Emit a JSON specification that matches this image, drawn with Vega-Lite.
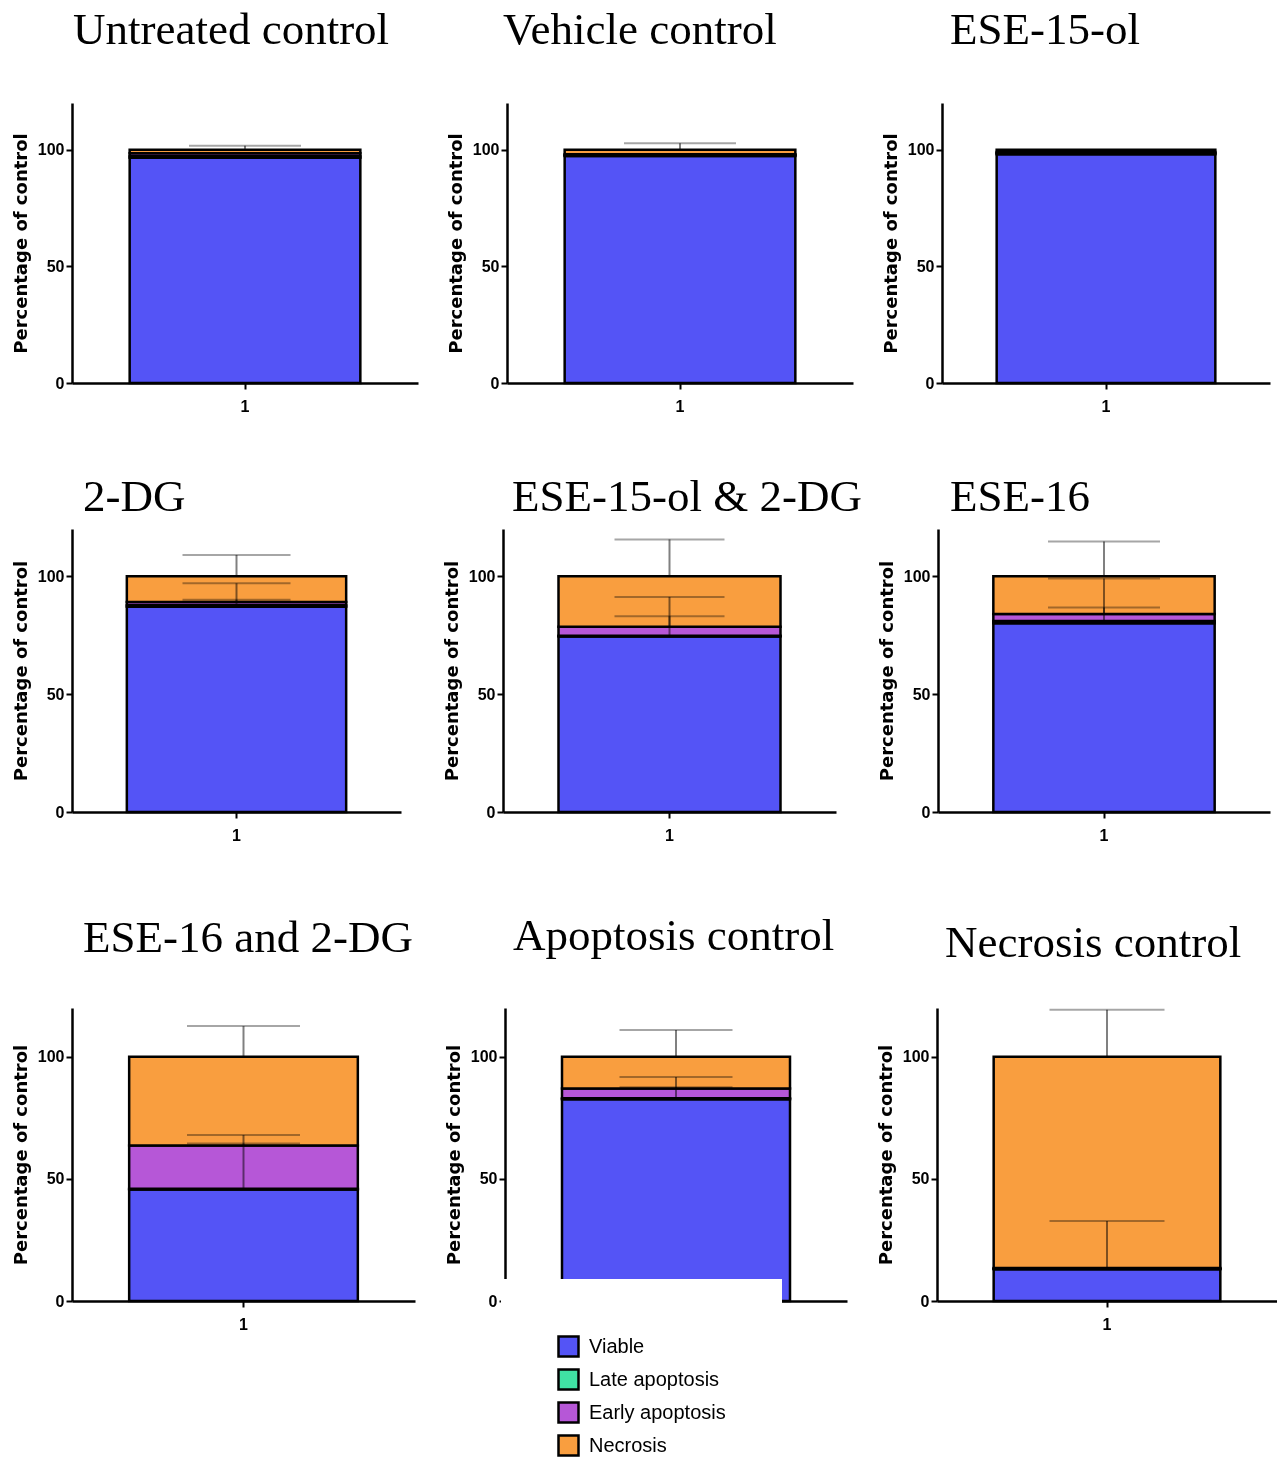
{
  "$schema": "https://vega.github.io/schema/vega-lite/v6.json",
  "padding": {"left": 12, "top": 8, "right": 0, "bottom": 0},
  "background": "white",
  "datasets": {
    "seg": [
      {"p": 1, "g": "1", "cat": "Viable", "k": 1, "v": 96.5},
      {"p": 1, "g": "1", "cat": "Late apoptosis", "k": 2, "v": 0.7},
      {"p": 1, "g": "1", "cat": "Early apoptosis", "k": 3, "v": 1.3},
      {"p": 1, "g": "1", "cat": "Necrosis", "k": 4, "v": 1.5},
      {"p": 2, "g": "1", "cat": "Viable", "k": 1, "v": 97.3},
      {"p": 2, "g": "1", "cat": "Late apoptosis", "k": 2, "v": 0.3},
      {"p": 2, "g": "1", "cat": "Early apoptosis", "k": 3, "v": 0.4},
      {"p": 2, "g": "1", "cat": "Necrosis", "k": 4, "v": 2.0},
      {"p": 3, "g": "1", "cat": "Viable", "k": 1, "v": 98.0},
      {"p": 3, "g": "1", "cat": "Late apoptosis", "k": 2, "v": 0.5},
      {"p": 3, "g": "1", "cat": "Early apoptosis", "k": 3, "v": 0.5},
      {"p": 3, "g": "1", "cat": "Necrosis", "k": 4, "v": 1.0},
      {"p": 4, "g": "1", "cat": "Viable", "k": 1, "v": 87.0},
      {"p": 4, "g": "1", "cat": "Late apoptosis", "k": 2, "v": 0.7},
      {"p": 4, "g": "1", "cat": "Early apoptosis", "k": 3, "v": 1.3},
      {"p": 4, "g": "1", "cat": "Necrosis", "k": 4, "v": 11.0},
      {"p": 5, "g": "1", "cat": "Viable", "k": 1, "v": 74.4},
      {"p": 5, "g": "1", "cat": "Late apoptosis", "k": 2, "v": 0.3},
      {"p": 5, "g": "1", "cat": "Early apoptosis", "k": 3, "v": 3.9},
      {"p": 5, "g": "1", "cat": "Necrosis", "k": 4, "v": 21.4},
      {"p": 6, "g": "1", "cat": "Viable", "k": 1, "v": 80.0},
      {"p": 6, "g": "1", "cat": "Late apoptosis", "k": 2, "v": 1.0},
      {"p": 6, "g": "1", "cat": "Early apoptosis", "k": 3, "v": 3.0},
      {"p": 6, "g": "1", "cat": "Necrosis", "k": 4, "v": 16.0},
      {"p": 7, "g": "1", "cat": "Viable", "k": 1, "v": 45.7},
      {"p": 7, "g": "1", "cat": "Late apoptosis", "k": 2, "v": 0.3},
      {"p": 7, "g": "1", "cat": "Early apoptosis", "k": 3, "v": 17.7},
      {"p": 7, "g": "1", "cat": "Necrosis", "k": 4, "v": 36.3},
      {"p": 8, "g": "1", "cat": "Viable", "k": 1, "v": 82.6},
      {"p": 8, "g": "1", "cat": "Late apoptosis", "k": 2, "v": 0.4},
      {"p": 8, "g": "1", "cat": "Early apoptosis", "k": 3, "v": 4.0},
      {"p": 8, "g": "1", "cat": "Necrosis", "k": 4, "v": 13.0},
      {"p": 9, "g": "1", "cat": "Viable", "k": 1, "v": 13.0},
      {"p": 9, "g": "1", "cat": "Late apoptosis", "k": 2, "v": 0.2},
      {"p": 9, "g": "1", "cat": "Early apoptosis", "k": 3, "v": 0.3},
      {"p": 9, "g": "1", "cat": "Necrosis", "k": 4, "v": 86.5}
    ],
    "err": [
      {"p": 1, "g": "1", "lo": 100, "hi": 101.7},
      {"p": 2, "g": "1", "lo": 100, "hi": 102.7},
      {"p": 4, "g": "1", "lo": 87, "hi": 90},
      {"p": 4, "g": "1", "lo": 89, "hi": 97},
      {"p": 4, "g": "1", "lo": 100, "hi": 109},
      {"p": 5, "g": "1", "lo": 74.4, "hi": 83},
      {"p": 5, "g": "1", "lo": 78.6, "hi": 91.2},
      {"p": 5, "g": "1", "lo": 100, "hi": 115.6},
      {"p": 6, "g": "1", "lo": 80, "hi": 86.7},
      {"p": 6, "g": "1", "lo": 84, "hi": 99},
      {"p": 6, "g": "1", "lo": 100, "hi": 114.7},
      {"p": 7, "g": "1", "lo": 45.7, "hi": 64.5},
      {"p": 7, "g": "1", "lo": 63.7, "hi": 68},
      {"p": 7, "g": "1", "lo": 100, "hi": 112.6},
      {"p": 8, "g": "1", "lo": 82.6, "hi": 87.5},
      {"p": 8, "g": "1", "lo": 87, "hi": 91.7},
      {"p": 8, "g": "1", "lo": 100, "hi": 111},
      {"p": 9, "g": "1", "lo": 13, "hi": 32.8},
      {"p": 9, "g": "1", "lo": 100, "hi": 119.3}
    ]
  },
  "vconcat": [
    {
      "hconcat": [
        {
          "width": 346, "height": 280,
          "title": {"text": "Untreated control", "dx": 1, "offset": 50},
          "layer": [
            {"data": {"name": "seg"}, "transform": [{"filter": "datum.p == 1"}], "mark": {"type": "bar", "stroke": "black", "strokeWidth": 2.5}, "encoding": {"x": {"field": "g", "type": "nominal", "scale": {"paddingInner": 0, "paddingOuter": 0.25}, "axis": {"title": null, "labelAngle": 0}}, "y": {"field": "v", "type": "quantitative", "stack": "zero", "scale": {"domain": [0, 120], "nice": false}, "title": "Percentage of control", "axis": {"values": [0, 50, 100]}}, "color": {"field": "cat", "type": "nominal", "title": null, "scale": {"domain": ["Viable", "Late apoptosis", "Early apoptosis", "Necrosis"], "range": ["#5454f6", "#40e2a4", "#b657d7", "#f99e3f"]}}, "order": {"field": "k", "type": "quantitative"}}},
            {"data": {"name": "err"}, "transform": [{"filter": "datum.p == 1"}], "mark": {"type": "rule", "color": "#808080", "strokeWidth": 2, "blend": "multiply"}, "encoding": {"x": {"field": "g", "type": "nominal"}, "y": {"field": "lo", "type": "quantitative", "title": "Percentage of control"}, "y2": {"field": "hi"}}},
            {"data": {"name": "err"}, "transform": [{"filter": "datum.p == 1"}], "mark": {"type": "tick", "color": "#808080", "thickness": 2, "size": 112, "blend": "multiply"}, "encoding": {"x": {"field": "g", "type": "nominal"}, "y": {"field": "hi", "type": "quantitative", "title": "Percentage of control"}}}
          ]
        },
        {
          "width": 346, "height": 280,
          "title": {"text": "Vehicle control", "dx": -4, "offset": 50},
          "layer": [
            {"data": {"name": "seg"}, "transform": [{"filter": "datum.p == 2"}], "mark": {"type": "bar", "stroke": "black", "strokeWidth": 2.5}, "encoding": {"x": {"field": "g", "type": "nominal", "scale": {"paddingInner": 0, "paddingOuter": 0.25}, "axis": {"title": null, "labelAngle": 0}}, "y": {"field": "v", "type": "quantitative", "stack": "zero", "scale": {"domain": [0, 120], "nice": false}, "title": "Percentage of control", "axis": {"values": [0, 50, 100]}}, "color": {"field": "cat", "type": "nominal", "title": null, "scale": {"domain": ["Viable", "Late apoptosis", "Early apoptosis", "Necrosis"], "range": ["#5454f6", "#40e2a4", "#b657d7", "#f99e3f"]}}, "order": {"field": "k", "type": "quantitative"}}},
            {"data": {"name": "err"}, "transform": [{"filter": "datum.p == 2"}], "mark": {"type": "rule", "color": "#808080", "strokeWidth": 2, "blend": "multiply"}, "encoding": {"x": {"field": "g", "type": "nominal"}, "y": {"field": "lo", "type": "quantitative", "title": "Percentage of control"}, "y2": {"field": "hi"}}},
            {"data": {"name": "err"}, "transform": [{"filter": "datum.p == 2"}], "mark": {"type": "tick", "color": "#808080", "thickness": 2, "size": 112, "blend": "multiply"}, "encoding": {"x": {"field": "g", "type": "nominal"}, "y": {"field": "hi", "type": "quantitative", "title": "Percentage of control"}}}
          ]
        },
        {
          "width": 328, "height": 280,
          "title": {"text": "ESE-15-ol", "dx": 8, "offset": 50},
          "layer": [
            {"data": {"name": "seg"}, "transform": [{"filter": "datum.p == 3"}], "mark": {"type": "bar", "stroke": "black", "strokeWidth": 2.5}, "encoding": {"x": {"field": "g", "type": "nominal", "scale": {"paddingInner": 0, "paddingOuter": 0.25}, "axis": {"title": null, "labelAngle": 0}}, "y": {"field": "v", "type": "quantitative", "stack": "zero", "scale": {"domain": [0, 120], "nice": false}, "title": "Percentage of control", "axis": {"values": [0, 50, 100]}}, "color": {"field": "cat", "type": "nominal", "title": null, "scale": {"domain": ["Viable", "Late apoptosis", "Early apoptosis", "Necrosis"], "range": ["#5454f6", "#40e2a4", "#b657d7", "#f99e3f"]}}, "order": {"field": "k", "type": "quantitative"}}},
            {"data": {"name": "err"}, "transform": [{"filter": "datum.p == 3"}], "mark": {"type": "rule", "color": "#808080", "strokeWidth": 2, "blend": "multiply"}, "encoding": {"x": {"field": "g", "type": "nominal"}, "y": {"field": "lo", "type": "quantitative", "title": "Percentage of control"}, "y2": {"field": "hi"}}},
            {"data": {"name": "err"}, "transform": [{"filter": "datum.p == 3"}], "mark": {"type": "tick", "color": "#808080", "thickness": 2, "size": 112, "blend": "multiply"}, "encoding": {"x": {"field": "g", "type": "nominal"}, "y": {"field": "hi", "type": "quantitative", "title": "Percentage of control"}}}
          ]
        }
      ],
      "spacing": 89, "bounds": "flush"
    },
    {
      "hconcat": [
        {
          "width": 329, "height": 283,
          "title": {"text": "2-DG", "dx": 11, "offset": 9},
          "layer": [
            {"data": {"name": "seg"}, "transform": [{"filter": "datum.p == 4"}], "mark": {"type": "bar", "stroke": "black", "strokeWidth": 2.5}, "encoding": {"x": {"field": "g", "type": "nominal", "scale": {"paddingInner": 0, "paddingOuter": 0.25}, "axis": {"title": null, "labelAngle": 0, "minExtent": 41}}, "y": {"field": "v", "type": "quantitative", "stack": "zero", "scale": {"domain": [0, 120], "nice": false}, "title": "Percentage of control", "axis": {"values": [0, 50, 100]}}, "color": {"field": "cat", "type": "nominal", "title": null, "scale": {"domain": ["Viable", "Late apoptosis", "Early apoptosis", "Necrosis"], "range": ["#5454f6", "#40e2a4", "#b657d7", "#f99e3f"]}}, "order": {"field": "k", "type": "quantitative"}}},
            {"data": {"name": "err"}, "transform": [{"filter": "datum.p == 4"}], "mark": {"type": "rule", "color": "#808080", "strokeWidth": 2, "blend": "multiply"}, "encoding": {"x": {"field": "g", "type": "nominal"}, "y": {"field": "lo", "type": "quantitative", "title": "Percentage of control"}, "y2": {"field": "hi"}}},
            {"data": {"name": "err"}, "transform": [{"filter": "datum.p == 4"}], "mark": {"type": "tick", "color": "#808080", "thickness": 2, "size": 108, "blend": "multiply"}, "encoding": {"x": {"field": "g", "type": "nominal"}, "y": {"field": "hi", "type": "quantitative", "title": "Percentage of control"}}}
          ]
        },
        {
          "width": 333, "height": 283,
          "title": {"text": "ESE-15-ol & 2-DG", "dx": 9, "offset": 9},
          "layer": [
            {"data": {"name": "seg"}, "transform": [{"filter": "datum.p == 5"}], "mark": {"type": "bar", "stroke": "black", "strokeWidth": 2.5}, "encoding": {"x": {"field": "g", "type": "nominal", "scale": {"paddingInner": 0, "paddingOuter": 0.25}, "axis": {"title": null, "labelAngle": 0, "minExtent": 41}}, "y": {"field": "v", "type": "quantitative", "stack": "zero", "scale": {"domain": [0, 120], "nice": false}, "title": "Percentage of control", "axis": {"values": [0, 50, 100]}}, "color": {"field": "cat", "type": "nominal", "title": null, "scale": {"domain": ["Viable", "Late apoptosis", "Early apoptosis", "Necrosis"], "range": ["#5454f6", "#40e2a4", "#b657d7", "#f99e3f"]}}, "order": {"field": "k", "type": "quantitative"}}},
            {"data": {"name": "err"}, "transform": [{"filter": "datum.p == 5"}], "mark": {"type": "rule", "color": "#808080", "strokeWidth": 2, "blend": "multiply"}, "encoding": {"x": {"field": "g", "type": "nominal"}, "y": {"field": "lo", "type": "quantitative", "title": "Percentage of control"}, "y2": {"field": "hi"}}},
            {"data": {"name": "err"}, "transform": [{"filter": "datum.p == 5"}], "mark": {"type": "tick", "color": "#808080", "thickness": 2, "size": 110, "blend": "multiply"}, "encoding": {"x": {"field": "g", "type": "nominal"}, "y": {"field": "hi", "type": "quantitative", "title": "Percentage of control"}}}
          ]
        },
        {
          "width": 332, "height": 283,
          "title": {"text": "ESE-16", "dx": 12, "offset": 9},
          "layer": [
            {"data": {"name": "seg"}, "transform": [{"filter": "datum.p == 6"}], "mark": {"type": "bar", "stroke": "black", "strokeWidth": 2.5}, "encoding": {"x": {"field": "g", "type": "nominal", "scale": {"paddingInner": 0, "paddingOuter": 0.25}, "axis": {"title": null, "labelAngle": 0, "minExtent": 41}}, "y": {"field": "v", "type": "quantitative", "stack": "zero", "scale": {"domain": [0, 120], "nice": false}, "title": "Percentage of control", "axis": {"values": [0, 50, 100]}}, "color": {"field": "cat", "type": "nominal", "title": null, "scale": {"domain": ["Viable", "Late apoptosis", "Early apoptosis", "Necrosis"], "range": ["#5454f6", "#40e2a4", "#b657d7", "#f99e3f"]}}, "order": {"field": "k", "type": "quantitative"}}},
            {"data": {"name": "err"}, "transform": [{"filter": "datum.p == 6"}], "mark": {"type": "rule", "color": "#808080", "strokeWidth": 2, "blend": "multiply"}, "encoding": {"x": {"field": "g", "type": "nominal"}, "y": {"field": "lo", "type": "quantitative", "title": "Percentage of control"}, "y2": {"field": "hi"}}},
            {"data": {"name": "err"}, "transform": [{"filter": "datum.p == 6"}], "mark": {"type": "tick", "color": "#808080", "thickness": 2, "size": 112, "blend": "multiply"}, "encoding": {"x": {"field": "g", "type": "nominal"}, "y": {"field": "hi", "type": "quantitative", "title": "Percentage of control"}}}
          ]
        }
      ],
      "spacing": 102, "bounds": "flush"
    },
    {
      "hconcat": [
        {
          "width": 343, "height": 293,
          "title": {"text": "ESE-16 and 2-DG", "dx": 11, "offset": 47},
          "layer": [
            {"data": {"name": "seg"}, "transform": [{"filter": "datum.p == 7"}], "mark": {"type": "bar", "stroke": "black", "strokeWidth": 2.5}, "encoding": {"x": {"field": "g", "type": "nominal", "scale": {"paddingInner": 0, "paddingOuter": 0.25}, "axis": {"title": null, "labelAngle": 0}}, "y": {"field": "v", "type": "quantitative", "stack": "zero", "scale": {"domain": [0, 120], "nice": false}, "title": "Percentage of control", "axis": {"values": [0, 50, 100]}}, "color": {"field": "cat", "type": "nominal", "title": null, "scale": {"domain": ["Viable", "Late apoptosis", "Early apoptosis", "Necrosis"], "range": ["#5454f6", "#40e2a4", "#b657d7", "#f99e3f"]}}, "order": {"field": "k", "type": "quantitative"}}},
            {"data": {"name": "err"}, "transform": [{"filter": "datum.p == 7"}], "mark": {"type": "rule", "color": "#808080", "strokeWidth": 2, "blend": "multiply"}, "encoding": {"x": {"field": "g", "type": "nominal"}, "y": {"field": "lo", "type": "quantitative", "title": "Percentage of control"}, "y2": {"field": "hi"}}},
            {"data": {"name": "err"}, "transform": [{"filter": "datum.p == 7"}], "mark": {"type": "tick", "color": "#808080", "thickness": 2, "size": 113, "blend": "multiply"}, "encoding": {"x": {"field": "g", "type": "nominal"}, "y": {"field": "hi", "type": "quantitative", "title": "Percentage of control"}}}
          ]
        },
        {
          "width": 342, "height": 293,
          "title": {"text": "Apoptosis control", "dx": 8, "offset": 49},
          "layer": [
            {"data": {"name": "seg"}, "transform": [{"filter": "datum.p == 8"}], "mark": {"type": "bar", "stroke": "black", "strokeWidth": 2.5}, "encoding": {"x": {"field": "g", "type": "nominal", "scale": {"paddingInner": 0, "paddingOuter": 0.25}, "axis": {"title": null, "labelAngle": 0}}, "y": {"field": "v", "type": "quantitative", "stack": "zero", "scale": {"domain": [0, 120], "nice": false}, "title": "Percentage of control", "axis": {"values": [0, 50, 100]}}, "color": {"field": "cat", "type": "nominal", "title": null, "scale": {"domain": ["Viable", "Late apoptosis", "Early apoptosis", "Necrosis"], "range": ["#5454f6", "#40e2a4", "#b657d7", "#f99e3f"]}}, "order": {"field": "k", "type": "quantitative"}}},
            {"data": {"name": "err"}, "transform": [{"filter": "datum.p == 8"}], "mark": {"type": "rule", "color": "#808080", "strokeWidth": 2, "blend": "multiply"}, "encoding": {"x": {"field": "g", "type": "nominal"}, "y": {"field": "lo", "type": "quantitative", "title": "Percentage of control"}, "y2": {"field": "hi"}}},
            {"data": {"name": "err"}, "transform": [{"filter": "datum.p == 8"}], "mark": {"type": "tick", "color": "#808080", "thickness": 2, "size": 113, "blend": "multiply"}, "encoding": {"x": {"field": "g", "type": "nominal"}, "y": {"field": "hi", "type": "quantitative", "title": "Percentage of control"}}}
          ]
        },
        {
          "width": 340, "height": 293,
          "title": {"text": "Necrosis control", "dx": 8, "offset": 42},
          "layer": [
            {"data": {"name": "seg"}, "transform": [{"filter": "datum.p == 9"}], "mark": {"type": "bar", "stroke": "black", "strokeWidth": 2.5}, "encoding": {"x": {"field": "g", "type": "nominal", "scale": {"paddingInner": 0, "paddingOuter": 0.25}, "axis": {"title": null, "labelAngle": 0}}, "y": {"field": "v", "type": "quantitative", "stack": "zero", "scale": {"domain": [0, 120], "nice": false}, "title": "Percentage of control", "axis": {"values": [0, 50, 100]}}, "color": {"field": "cat", "type": "nominal", "title": null, "scale": {"domain": ["Viable", "Late apoptosis", "Early apoptosis", "Necrosis"], "range": ["#5454f6", "#40e2a4", "#b657d7", "#f99e3f"]}}, "order": {"field": "k", "type": "quantitative"}}},
            {"data": {"name": "err"}, "transform": [{"filter": "datum.p == 9"}], "mark": {"type": "rule", "color": "#808080", "strokeWidth": 2, "blend": "multiply"}, "encoding": {"x": {"field": "g", "type": "nominal"}, "y": {"field": "lo", "type": "quantitative", "title": "Percentage of control"}, "y2": {"field": "hi"}}},
            {"data": {"name": "err"}, "transform": [{"filter": "datum.p == 9"}], "mark": {"type": "tick", "color": "#808080", "thickness": 2, "size": 115, "blend": "multiply"}, "encoding": {"x": {"field": "g", "type": "nominal"}, "y": {"field": "hi", "type": "quantitative", "title": "Percentage of control"}}}
          ]
        }
      ],
      "spacing": 90, "bounds": "flush"
    }
  ],
  "spacing": 61,
  "config": {
    "view": {"stroke": null},
    "font": "Liberation Sans",
    "axis": {
      "domainColor": "black", "domainWidth": 2.5, "tickColor": "black", "tickWidth": 2, "tickSize": 6,
      "labelColor": "black", "labelFont": "Liberation Sans", "labelFontWeight": "bold", "labelFontSize": 16,
      "grid": false, "titleColor": "black", "titleFont": "DejaVu Sans", "titleFontWeight": "bold", "titleFontSize": 18
    },
    "axisY": {"titlePadding": 7, "labelPadding": 2},
    "axisX": {"labelPadding": 9, "labelAngle": 0},
    "title": {"font": "Liberation Serif", "fontSize": 45, "fontWeight": "normal", "anchor": "start", "frame": "group", "color": "black", "baseline": "alphabetic"},
    "legend": {
      "orient": "none", "legendX": 429, "legendY": 1176, "padding": 56, "fillColor": "white",
      "symbolType": "square", "symbolSize": 400, "symbolStrokeColor": "black", "symbolStrokeWidth": 2.5,
      "labelFont": "Liberation Sans", "labelFontSize": 20, "labelColor": "black",
      "labelOffset": 9, "rowPadding": 2
    }
  }
}
